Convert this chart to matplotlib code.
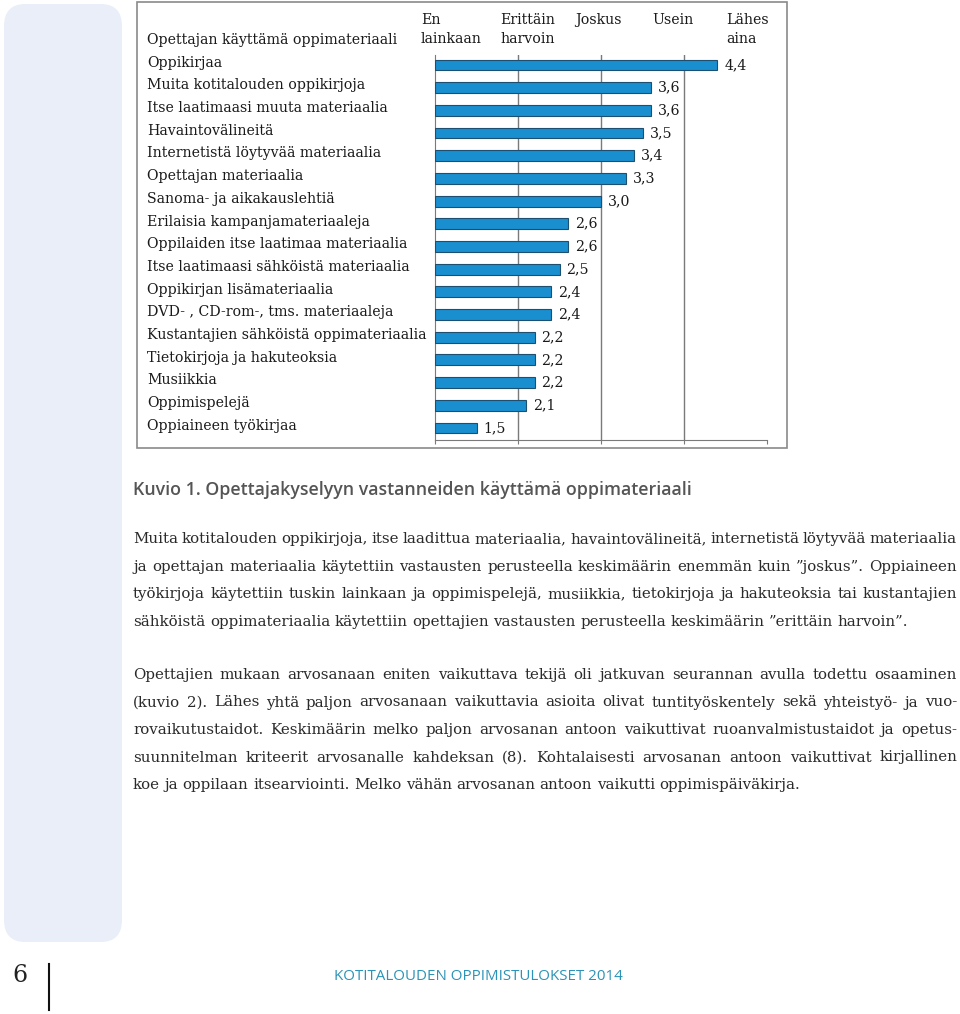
import matplotlib
matplotlib.use("Agg")
import matplotlib.pyplot as plt
from matplotlib.patches import FancyBboxPatch, Rectangle
from matplotlib.lines import Line2D

# data
materials = ["Oppikirjaa", "Muita kotitalouden oppikirjoja", "Itse laatimaasi muuta materiaalia",
             "Havaintovälineitä", "Internetistä löytyvää materiaalia", "Opettajan materiaalia",
             "Sanoma- ja aikakauslehtiä", "Erilaisia kampanjamateriaaleja",
             "Oppilaiden itse laatimaa materiaalia", "Itse laatimaasi sähköistä materiaalia",
             "Oppikirjan lisämateriaalia", "DVD- , CD-rom-, tms. materiaaleja",
             "Kustantajien sähköistä oppimateriaalia", "Tietokirjoja ja hakuteoksia",
             "Musiikkia", "Oppimispelejä", "Oppiaineen työkirjaa"]
means = [4.4, 3.6, 3.6, 3.5, 3.4, 3.3, 3.0, 2.6, 2.6, 2.5, 2.4, 2.4, 2.2, 2.2, 2.2, 2.1, 1.5]
scale_labels = ["En\nlainkaan", "Erittäin\nharvoin", "Joskus", "Usein", "Lähes\naina"]

caption = "Kuvio 1. Opettajakyselyyn vastanneiden käyttämä oppimateriaali"
para1 = ["Muita kotitalouden oppikirjoja, itse laadittua materiaalia, havaintovälineitä, internetistä löytyvää materiaalia",
         "ja opettajan materiaalia käytettiin vastausten perusteella keskimäärin enemmän kuin ”joskus”. Oppiaineen",
         "työkirjoja käytettiin tuskin lainkaan ja oppimispelejä, musiikkia, tietokirjoja ja hakuteoksia tai kustantajien",
         "sähköistä oppimateriaalia käytettiin opettajien vastausten perusteella keskimäärin ”erittäin harvoin”."]
para2 = ["Opettajien mukaan arvosanaan eniten vaikuttava tekijä oli jatkuvan seurannan avulla todettu osaaminen",
         "(kuvio 2). Lähes yhtä paljon arvosanaan vaikuttavia asioita olivat tuntityöskentely sekä yhteistyö- ja vuo-",
         "rovaikutustaidot. Keskimäärin melko paljon arvosanan antoon vaikuttivat ruoanvalmistustaidot ja opetus-",
         "suunnitelman kriteerit arvosanalle kahdeksan (8). Kohtalaisesti arvosanan antoon vaikuttivat kirjallinen",
         "koe ja oppilaan itsearviointi. Melko vähän arvosanan antoon vaikutti oppimispäiväkirja."]
footer = "KOTITALOUDEN OPPIMISTULOKSET 2014"

W, H = 960, 1014
def fx(px):
    return px / W
def fy(py):
    return 1 - py / H

serif = "DejaVu Serif"
body_size = 10.85
fig = plt.figure(figsize=(9.6, 10.14), dpi=100)

# left pale panel
fig.patches.append(FancyBboxPatch((fx(4), fy(942)), fx(118), 938 / H,
                                  boxstyle="round,pad=0,rounding_size=0.022",
                                  transform=fig.transFigure, facecolor="#e9eef8", edgecolor="none"))
# chart frame
fig.patches.append(Rectangle((fx(137), fy(448)), fx(650), 446 / H, transform=fig.transFigure,
                             facecolor="none", edgecolor="#8a8a8a", lw=1.2))

ax = fig.add_axes([fx(435), fy(440), fx(767) - fx(435), 385 / H])
ys = list(range(len(materials)))
ax.barh(ys, [m - 1 for m in means], left=1, height=0.48, color="#1a8fd0",
        edgecolor="#1d4f70", lw=0.8, zorder=3)
ax.set_xlim(1, 5)
ax.set_ylim(16.53, -0.44)
for g in [2, 3, 4]:
    ax.axvline(g, color="#7a7a7a", lw=1, zorder=1)
for s in ["top", "right"]:
    ax.spines[s].set_visible(False)
ax.spines["left"].set_color("#7a7a7a")
ax.spines["bottom"].set_color("#7a7a7a")
ax.set_xticks([1, 2, 3, 4, 5])
ax.tick_params(axis="x", length=3, color="#7a7a7a", labelbottom=False)
ax.set_yticks([])

lab_x = (147 - 435) / (767 - 435)
for y, name, m in zip(ys, materials, means):
    ax.text(lab_x, y - 0.1, name, transform=ax.get_yaxis_transform(), ha="left", va="center",
            family=serif, fontsize=10.2, color="#1a1a1a")
    ax.annotate(f"{m:.1f}".replace(".", ","), (m, y), xytext=(5, 0), textcoords="offset points",
                ha="left", va="center", family=serif, fontsize=10.2, color="#1a1a1a")

# header row
fig.text(fx(147), fy(40), "Opettajan käyttämä oppimateriaali", ha="left", va="center",
         family=serif, fontsize=10.2, color="#1a1a1a")
for lab, px in zip(scale_labels, [421, 500, 575, 652, 726]):
    fig.text(fx(px), fy(13), lab, ha="left", va="top", family=serif, fontsize=10.2,
             color="#1a1a1a", linespacing=1.45)

fig.text(fx(133), fy(490), caption, ha="left", va="center", family="Open Sans",
         fontweight="semibold", fontsize=12.8, color="#555555")

# justified body text
renderer = fig.canvas.get_renderer()
def put_line(line, py, justify):
    words = line.split(" ")
    objs = [fig.text(0, fy(py), w, ha="left", va="center", family=serif, fontsize=body_size,
                     color="#2a2a2a") for w in words]
    widths = [o.get_window_extent(renderer).width for o in objs]
    left, right = 133, 957
    if justify and len(words) > 1:
        gap = (right - left - sum(widths)) / (len(words) - 1)
    else:
        gap = renderer.points_to_pixels(body_size) * 0.3
    x = left
    for o, w in zip(objs, widths):
        o.set_x(fx(x))
        x += w + gap

for i, line in enumerate(para1):
    put_line(line, 539 + i * 27.7, i < len(para1) - 1)
for i, line in enumerate(para2):
    put_line(line, 675 + i * 27.5, i < len(para2) - 1)

# footer
fig.text(fx(20), fy(976), "6", ha="center", va="center", family=serif, fontsize=17, color="#222222")
fig.add_artist(Line2D([fx(49), fx(49)], [fy(964), fy(1010)], transform=fig.transFigure,
                      color="#111111", lw=1.5))
fig.text(fx(478), fy(976), footer, ha="center", va="center", family="Open Sans",
         fontsize=10.9, color="#2b93b8")

fig.savefig("out.png", dpi=100)
